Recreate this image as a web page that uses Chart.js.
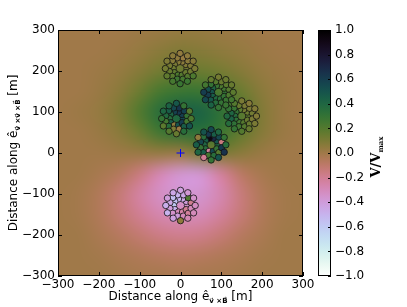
<!DOCTYPE html>
<html>
<head>
<meta charset="utf-8">
<script src="https://cdn.jsdelivr.net/npm/chart.js@4"></script>
<style>
    body { margin: 0; background: #fff; }
    canvas { display: block; }
</style>
</head>
<body>
<canvas id="chart" width="407" height="307"></canvas>
<script>
// background field V/Vmax, sampled every 50 m (rows from top y=300 to bottom y=-300)
const gridX = [-300, -250, -200, -150, -100, -50, 0, 50, 100, 150, 200, 250, 300];
const gridY = [300, 250, 200, 150, 100, 50, 0, -50, -100, -150, -200, -250, -300];
const fieldRows = [
    [0, 0, 0, 0, 0.01, 0.02, 0.03, 0.03, 0.02, 0.01, 0, 0, 0],
    [0, 0, 0, 0.01, 0.03, 0.06, 0.08, 0.07, 0.05, 0.03, 0.01, 0, 0],
    [0, 0, 0.01, 0.03, 0.07, 0.12, 0.14, 0.14, 0.11, 0.07, 0.03, 0.01, 0],
    [0, 0, 0.02, 0.06, 0.14, 0.24, 0.28, 0.28, 0.22, 0.14, 0.06, 0.02, 0],
    [0, 0.01, 0.03, 0.09, 0.21, 0.35, 0.43, 0.42, 0.32, 0.2, 0.08, 0.02, 0],
    [0, 0, 0.02, 0.06, 0.14, 0.26, 0.32, 0.33, 0.27, 0.16, 0.07, 0.02, 0],
    [0, 0, 0, 0.01, 0.02, 0.03, 0.02, 0.1, 0.1, 0.06, 0.02, 0, 0],
    [0, 0, -0.02, -0.06, -0.15, -0.28, -0.37, -0.37, -0.22, -0.08, -0.02, 0, 0],
    [0, -0.01, -0.05, -0.13, -0.24, -0.33, -0.37, -0.36, -0.27, -0.14, -0.05, -0.01, 0],
    [0, -0.01, -0.05, -0.12, -0.2, -0.27, -0.3, -0.29, -0.22, -0.13, -0.05, -0.01, 0],
    [0, 0, -0.03, -0.07, -0.12, -0.17, -0.19, -0.18, -0.13, -0.07, -0.03, 0, 0],
    [0, 0, -0.01, -0.03, -0.05, -0.07, -0.08, -0.07, -0.05, -0.03, -0.01, 0, 0],
    [0, 0, 0, -0.01, -0.02, -0.02, -0.03, -0.02, -0.02, -0.01, 0, 0, 0]
];

const axisTicks = [-300, -200, -100, 0, 100, 200, 300];
const colorbarTicks = [-1, -0.8, -0.6, -0.4, -0.2, 0, 0.2, 0.4, 0.6, 0.8, 1];

// antennas: [x (m), y (m), V/Vmax]
const station1 = [
    [16, 206, .12], [13, 216, .08], [4, 222, .06], [-6, 222, .07], [-15, 216, .1], [-18, 206, .13], [-15, 196, .17], [-6, 190, .22], [4, 190, .2], [13, 196, .15],
    [25, 213, .09], [18, 225, .06], [6, 232, .03], [-8, 232, .05], [-20, 225, .07], [-27, 213, .11], [-27, 199, .15], [-20, 187, .19], [-8, 180, .26], [6, 180, .24], [18, 187, .2], [25, 199, .13],
    [31, 224, .07], [-1, 243, .04], [-33, 224, .09], [-33, 188, .17], [-1, 169, .28], [31, 188, .22],
    [35, 206, .1], [17, 237, .05], [-19, 237, .06], [-37, 206, .12], [-19, 175, .24], [17, 175, .27]
];
const station2 = [
    [110, 148, .3], [107, 158, .25], [98, 164, .22], [88, 164, .28], [79, 158, .4], [76, 148, .5], [79, 138, .45], [88, 132, .38], [98, 132, .33], [107, 138, .3],
    [119, 155, .2], [112, 167, .18], [100, 174, .15], [86, 174, .2], [74, 167, .3], [67, 155, .52], [67, 141, .6], [74, 129, .48], [86, 122, .36], [100, 122, .3], [112, 129, .28], [119, 141, .22],
    [125, 166, .15], [93, 185, .12], [61, 166, .25], [61, 130, .55], [93, 111, .3], [125, 130, .25],
    [129, 148, .18], [111, 179, .14], [75, 179, .16], [57, 148, .6], [75, 117, .42], [111, 117, .28]
];
const station3 = [
    [167, 90, .18], [164, 100, .14], [155, 106, .12], [145, 106, .18], [136, 100, .3], [133, 90, .36], [136, 80, .32], [145, 74, .26], [155, 74, .2], [164, 80, .15],
    [176, 97, .12], [169, 109, .1], [157, 116, .1], [143, 116, .15], [131, 109, .28], [124, 97, .4], [124, 83, .42], [131, 71, .32], [143, 64, .26], [157, 64, .2], [169, 71, .15], [176, 83, .1],
    [182, 108, .08], [150, 127, .1], [118, 108, .3], [118, 72, .36], [150, 53, .2], [182, 72, .1],
    [186, 90, .08], [168, 121, .07], [132, 121, .2], [114, 90, .38], [132, 59, .3], [168, 59, .15]
];
const station4 = [
    [7, 84, .55], [4, 94, .6], [-5, 100, .62], [-15, 100, .58], [-24, 94, .42], [-27, 84, .35], [-24, 74, .45], [-15, 68, .05], [-5, 68, .5], [4, 74, .6],
    [16, 91, .3], [9, 103, .58], [-3, 110, .64], [-17, 110, .55], [-29, 103, .45], [-36, 91, .38], [-36, 77, .25], [-29, 65, .35], [-17, 58, .1], [-3, 58, .02], [9, 65, .45], [16, 77, .25],
    [22, 102, .2], [-10, 121, .48], [-42, 102, .4], [-42, 66, .18], [-10, 47, .15], [22, 66, .5],
    [26, 84, .22], [8, 115, .3], [-28, 115, .42], [-46, 84, .3], [-28, 53, .2], [8, 53, .35]
];
const station5 = [
    [92, 20, .4], [89, 30, .5], [80, 36, .7], [70, 36, .92], [61, 30, .45], [58, 20, .4], [61, 10, .35], [70, 4, -.22], [80, 4, .55], [89, 10, .3],
    [101, 27, -.15], [94, 39, .55], [82, 46, .45], [68, 46, .62], [56, 39, .35], [49, 27, .55], [49, 13, .3], [56, 1, .45], [68, -6, .25], [82, -6, .35], [94, 1, .2], [101, 13, .62],
    [107, 38, .3], [75, 57, .55], [43, 38, .05], [43, 2, .4], [75, -17, .3], [107, 2, .65],
    [111, 20, .35], [93, 51, .4], [57, 51, .5], [39, 20, .45], [57, -11, -.2], [93, -11, .5]
];
const station6 = [
    [17, -128, -.35], [14, -118, -.4], [5, -112, -.45], [-5, -112, -.5], [-14, -118, -.55], [-17, -128, -.6], [-14, -138, -.5], [-5, -144, -.3], [5, -144, -.25], [14, -138, -.2],
    [26, -121, -.2], [19, -109, .22], [7, -102, -.45], [-7, -102, -.5], [-19, -109, -.55], [-26, -121, -.45], [-26, -135, -.4], [-19, -147, -.35], [-7, -154, -.4], [7, -154, -.3], [19, -147, -.22], [26, -135, -.3],
    [32, -110, -.35], [0, -91, -.42], [-32, -110, -.4], [-32, -146, -.5], [0, -165, .05], [32, -146, -.3],
    [36, -128, -.32], [18, -97, -.38], [-18, -97, -.45], [-36, -128, -.48], [-18, -159, -.42], [18, -159, -.28]
];
const stations = [station1, station2, station3, station4, station5, station6];
const showerCore = [{ x: 0, y: 0 }];

// matplotlib "cubehelix", reversed so that +1 is black and -1 is white
function cubehelix(v) {
    const t = Math.min(1, Math.max(0, (1 - v) / 2));
    const phi = 2 * Math.PI * (0.5 / 3 - 1.5 * t);
    const a = t * (1 - t) / 2;
    const c = Math.cos(phi), s = Math.sin(phi);
    const rgb = [
        t + a * (-0.14861 * c + 1.78277 * s),
        t + a * (-0.29227 * c - 0.90649 * s),
        t + a * (1.97294 * c)
    ];
    return rgb.map(u => Math.round(255 * Math.min(1, Math.max(0, u))));
}
const cssColor = v => 'rgb(' + cubehelix(v).join(',') + ')';

const fmt = (v, d) => {
    if (Math.abs(v) < 1e-9) v = 0;
    const s = Math.abs(v).toFixed(d);
    return v < 0 ? '\u2212' + s : s;
};

const FONT = "'DejaVu Sans', sans-serif";

function drawParts(ctx, parts, cx, cy, rot) {
    ctx.save();
    ctx.translate(cx, cy);
    ctx.rotate(rot);
    let w = 0;
    parts.forEach(p => { ctx.font = p.font; p.w = ctx.measureText(p.text).width; w += p.w; });
    let pos = -w / 2;
    ctx.fillStyle = '#000';
    ctx.textBaseline = 'alphabetic';
    ctx.textAlign = 'left';
    parts.forEach(p => { ctx.font = p.font; ctx.fillText(p.text, pos, p.dy || 0); pos += p.w; });
    ctx.restore();
}

// no extra room for half tick labels, the box sizes are fixed
function noPadding(s) {
    s.paddingTop = 0;
    s.paddingBottom = 0;
    s.paddingLeft = 0;
    s.paddingRight = 0;
}

const fieldPlugin = {
    id: 'field',
    beforeDatasetsDraw(chart) {
        const { ctx, chartArea: area, scales: { x, y } } = chart;
        const off = document.createElement('canvas');
        off.width = gridX.length;
        off.height = gridY.length;
        const octx = off.getContext('2d');
        const img = octx.createImageData(off.width, off.height);
        fieldRows.forEach((row, j) => row.forEach((v, i) => {
            const c = cubehelix(v);
            const k = (j * off.width + i) * 4;
            img.data[k] = c[0];
            img.data[k + 1] = c[1];
            img.data[k + 2] = c[2];
            img.data[k + 3] = 255;
        }));
        octx.putImageData(img, 0, 0);
        const hx = (gridX[1] - gridX[0]) / 2;
        const hy = (gridY[0] - gridY[1]) / 2;
        const x0 = x.getPixelForValue(gridX[0] - hx);
        const x1 = x.getPixelForValue(gridX[gridX.length - 1] + hx);
        const y0 = y.getPixelForValue(gridY[0] + hy);
        const y1 = y.getPixelForValue(gridY[gridY.length - 1] - hy);
        ctx.save();
        ctx.beginPath();
        ctx.rect(area.left, area.top, area.width, area.height);
        ctx.clip();
        ctx.imageSmoothingEnabled = true;
        ctx.imageSmoothingQuality = 'high';
        ctx.drawImage(off, x0, y0, x1 - x0, y1 - y0);
        ctx.restore();
    },
    afterDraw(chart) {
        const { ctx, chartArea: area, scales: { x, y, cbar } } = chart;
        ctx.save();
        // inward ticks and frame
        ctx.strokeStyle = '#000';
        ctx.lineWidth = 1;
        ctx.beginPath();
        axisTicks.forEach(t => {
            const px = Math.round(x.getPixelForValue(t)) + 0.5;
            ctx.moveTo(px, area.bottom); ctx.lineTo(px, area.bottom - 4);
            ctx.moveTo(px, area.top); ctx.lineTo(px, area.top + 4);
            const py = Math.round(y.getPixelForValue(t)) + 0.5;
            ctx.moveTo(area.left, py); ctx.lineTo(area.left + 4, py);
            ctx.moveTo(area.right, py); ctx.lineTo(area.right - 4, py);
        });
        ctx.stroke();
        ctx.strokeRect(area.left + 0.5, area.top + 0.5, area.width - 1, area.height - 1);

        // colorbar
        const cbLeft = area.right + 15, cbWidth = 13;
        const top = cbar.getPixelForValue(1), bottom = cbar.getPixelForValue(-1);
        const grad = ctx.createLinearGradient(0, top, 0, bottom);
        for (let i = 0; i <= 40; i++) {
            grad.addColorStop(i / 40, cssColor(1 - i / 20));
        }
        ctx.fillStyle = grad;
        ctx.fillRect(cbLeft, top, cbWidth, bottom - top);
        ctx.beginPath();
        colorbarTicks.forEach(t => {
            const py = Math.round(cbar.getPixelForValue(t)) + 0.5;
            ctx.moveTo(cbLeft + cbWidth, py); ctx.lineTo(cbLeft + cbWidth - 3, py);
        });
        ctx.stroke();
        ctx.strokeRect(cbLeft + 0.5, top + 0.5, cbWidth - 1, bottom - top - 1);
        ctx.restore();

        // axis titles
        const midX = (area.left + area.right) / 2;
        const midY = (area.top + area.bottom) / 2;
        drawParts(ctx, [
            { text: 'Distance along ê', font: '12px ' + FONT },
            { text: 'v\u20D7 \u00D7B\u20D7', font: 'bold 7px ' + FONT, dy: 3 },
            { text: ' [m]', font: '12px ' + FONT }
        ], midX, 300, 0);
        drawParts(ctx, [
            { text: 'Distance along ê', font: '12px ' + FONT },
            { text: 'v\u20D7 \u00D7v\u20D7 \u00D7B\u20D7', font: 'bold 7px ' + FONT, dy: 3 },
            { text: ' [m]', font: '12px ' + FONT }
        ], 16.5, midY, -Math.PI / 2);
        drawParts(ctx, [
            { text: 'V/V', font: "bold 13px 'DejaVu Serif', serif" },
            { text: 'max', font: "bold 7px 'DejaVu Serif', serif", dy: 3 }
        ], 380, midY + 4, -Math.PI / 2);
    }
};

const datasets = stations.map(st => ({
    data: st.map(p => ({ x: p[0], y: p[1] })),
    pointBackgroundColor: st.map(p => cssColor(p[2])),
    pointBorderColor: '#111',
    pointBorderWidth: 0.8,
    pointRadius: 3.2,
    showLine: false
}));
datasets.push({
    data: showerCore,
    pointStyle: 'cross',
    pointRadius: 4,
    pointBorderColor: '#0000ff',
    pointBorderWidth: 1
});

const axisScale = (position, size) => ({
    type: 'linear',
    position: position,
    min: -300,
    max: 300,
    afterBuildTicks: s => { s.ticks = axisTicks.map(v => ({ value: v })); },
    afterFit: s => {
        if (position === 'left') s.width = size; else s.height = size;
        noPadding(s);
    },
    grid: { display: false, drawTicks: false },
    border: { display: false },
    ticks: {
        autoSkip: false,
        maxRotation: 0,
        padding: position === 'left' ? 3 : 2,
        color: '#000',
        font: { family: FONT, size: 12 },
        callback: v => fmt(v, 0)
    }
});

new Chart(document.getElementById('chart'), {
    type: 'scatter',
    data: { datasets: datasets },
    options: {
        responsive: false,
        animation: false,
        devicePixelRatio: 1,
        layout: { padding: { top: 30 } },
        plugins: { legend: { display: false }, tooltip: { enabled: false } },
        scales: {
            x: axisScale('bottom', 31),
            y: axisScale('left', 58),
            cbar: {
                type: 'linear',
                axis: 'y',
                position: 'right',
                min: -1,
                max: 1,
                afterBuildTicks: s => { s.ticks = colorbarTicks.map(v => ({ value: v })); },
                afterFit: s => { s.width = 104; noPadding(s); },
                grid: { display: false, drawTicks: false },
                border: { display: false },
                ticks: {
                    autoSkip: false,
                    padding: 32,
                    color: '#000',
                    font: { family: FONT, size: 12 },
                    callback: v => fmt(v, 1)
                }
            }
        }
    },
    plugins: [fieldPlugin]
});
</script>
</body>
</html>
